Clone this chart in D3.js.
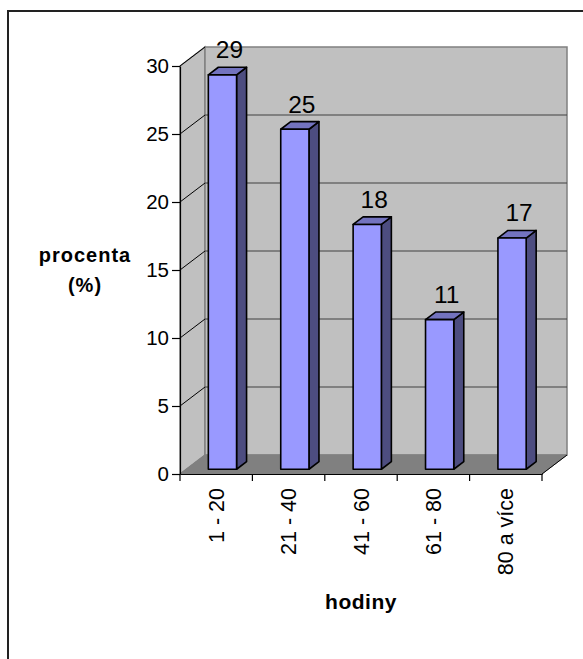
<!DOCTYPE html>
<html><head><meta charset="utf-8">
<script src="https://cdn.jsdelivr.net/npm/d3@7"></script>
<style>body{margin:0;background:#fff}svg{display:block}text{font-family:Arial,"Liberation Sans",sans-serif}</style>
</head><body>
<svg id="c" width="583" height="659"></svg>
<script>
const categories = ["1 - 20", "21 - 40", "41 - 60", "61 - 80", "80 a více"];
const values = [29, 25, 18, 11, 17];
const yTicks = [0, 5, 10, 15, 20, 25, 30];
const yTitle = ["procenta", "(%)"];
const xTitle = "hodiny";

(function () {
const svg = d3.select("#c");
const W = 583, H = 659;
const pL = 180, pR = 542, pB = 474, pT = 66;
const D = [25, -19];           // depth offset of back wall
const bf = 0.25, bb = 0.65;    // bar front/back depth fractions
const FF = "Arial, 'Liberation Sans', sans-serif";

const x = d3.scaleBand().domain(categories).range([pL, pR]).padding(0);
const y = d3.scaleLinear().domain([0, 30]).range([pB, pT]);
const barW = x.bandwidth() * 0.39;

svg.append("rect").attr("x", 8).attr("y", 11).attr("width", W + 20).attr("height", H + 20)
  .attr("fill", "none").attr("stroke", "#222").attr("stroke-width", 2);

const g = svg.append("g");
const pt = (px, py) => px + "," + py;

g.append("polygon")
  .attr("points", [pt(pL, pB), pt(pL, pT), pt(pL + D[0], pT + D[1]), pt(pL + D[0], pB + D[1])].join(" "))
  .attr("fill", "#c0c0c0").attr("stroke", "#808080").attr("stroke-width", 1.5);
g.append("rect").attr("x", pL + D[0]).attr("y", pT + D[1])
  .attr("width", pR - pL).attr("height", pB - pT)
  .attr("fill", "#c0c0c0").attr("stroke", "#808080").attr("stroke-width", 1.5);
g.append("polygon")
  .attr("points", [pt(pL, pB), pt(pR, pB), pt(pR + D[0], pB + D[1]), pt(pL + D[0], pB + D[1])].join(" "))
  .attr("fill", "#808080").attr("stroke", "#808080").attr("stroke-width", 1);

yTicks.filter(t => t > 0 && t < 30).forEach(t => {
  g.append("line").attr("x1", pL + D[0]).attr("x2", pR + D[0])
    .attr("y1", y(t) + D[1]).attr("y2", y(t) + D[1]).attr("stroke", "#404040").attr("stroke-width", 1.2);
});
yTicks.filter(t => t > 0).forEach(t => {
  g.append("line").attr("x1", pL).attr("y1", y(t))
    .attr("x2", pL + D[0]).attr("y2", y(t) + D[1]).attr("stroke", "#000").attr("stroke-width", 1);
});
g.append("line").attr("x1", pR).attr("y1", pB).attr("x2", pR + D[0]).attr("y2", pB + D[1])
  .attr("stroke", "#000").attr("stroke-width", 1);

const bars = g.append("g");
categories.forEach((c, i) => {
  const v = values[i];
  const cx = x(c) + x.bandwidth() / 2;
  const fx0 = cx - barW / 2 + D[0] * bf, fx1 = cx + barW / 2 + D[0] * bf;
  const fyT = y(v) + D[1] * bf, fyB = y(0) + D[1] * bf;
  const dx = D[0] * (bb - bf), dy = D[1] * (bb - bf);
  const bg = bars.append("g").attr("stroke", "#000").attr("stroke-width", 1.6).attr("stroke-linejoin", "round");
  bg.append("polygon").attr("points", [pt(fx1, fyT), pt(fx1 + dx, fyT + dy), pt(fx1 + dx, fyB + dy), pt(fx1, fyB)].join(" "))
    .attr("fill", "#4d4d80");
  bg.append("polygon").attr("points", [pt(fx0, fyT), pt(fx0 + dx, fyT + dy), pt(fx1 + dx, fyT + dy), pt(fx1, fyT)].join(" "))
    .attr("fill", "#7373bf");
  bg.append("rect").attr("x", fx0).attr("y", fyT).attr("width", fx1 - fx0).attr("height", fyB - fyT)
    .attr("fill", "#9999ff");
  g.append("text").attr("x", (fx0 + fx1) / 2 + 7).attr("y", y(v) - 21.5)
    .attr("text-anchor", "middle").attr("font-size", 24.5).attr("font-family", FF).attr("fill", "#000").text(v);
});

const yAxis = d3.axisLeft(y).tickValues(yTicks).tickSize(8).tickSizeOuter(0).tickPadding(3);
const ya = svg.append("g").attr("transform", `translate(${pL},0)`).call(yAxis);
ya.selectAll("path,line").attr("stroke", "#000").attr("stroke-width", 1.2);
ya.selectAll("text").attr("font-size", 20.5).attr("font-family", FF).attr("fill", "#000");

const xAxis = d3.axisBottom(x).tickSize(0).tickSizeOuter(0);
const xa = svg.append("g").attr("transform", `translate(0,${pB})`).call(xAxis);
xa.select("path").attr("stroke", "#000").attr("stroke-width", 1.2);
xa.selectAll("text").attr("font-size", 21.5).attr("font-family", FF).attr("fill", "#000")
  .attr("text-anchor", "end").attr("transform", "rotate(-90)").attr("x", -14).attr("y", 0).attr("dy", "0.35em");
const bounds = categories.map(c => x(c)).concat([pR]);
svg.append("g").selectAll("line").data(bounds).join("line")
  .attr("x1", d => d).attr("x2", d => d).attr("y1", pB).attr("y2", pB + 7)
  .attr("stroke", "#000").attr("stroke-width", 1.2);

const yt = svg.append("text").attr("text-anchor", "middle").attr("font-size", 20).attr("font-weight", "bold")
  .attr("letter-spacing", 1).attr("font-family", FF).attr("fill", "#000");
yTitle.forEach((s, i) => yt.append("tspan").attr("x", 85).attr("y", 262 + i * 30).text(s));
svg.append("text").attr("x", (pL + pR) / 2).attr("y", 609).attr("text-anchor", "middle")
  .attr("font-size", 21).attr("font-weight", "bold").attr("letter-spacing", 0.5).attr("font-family", FF).attr("fill", "#000").text(xTitle);
})();
</script>
</body></html>
